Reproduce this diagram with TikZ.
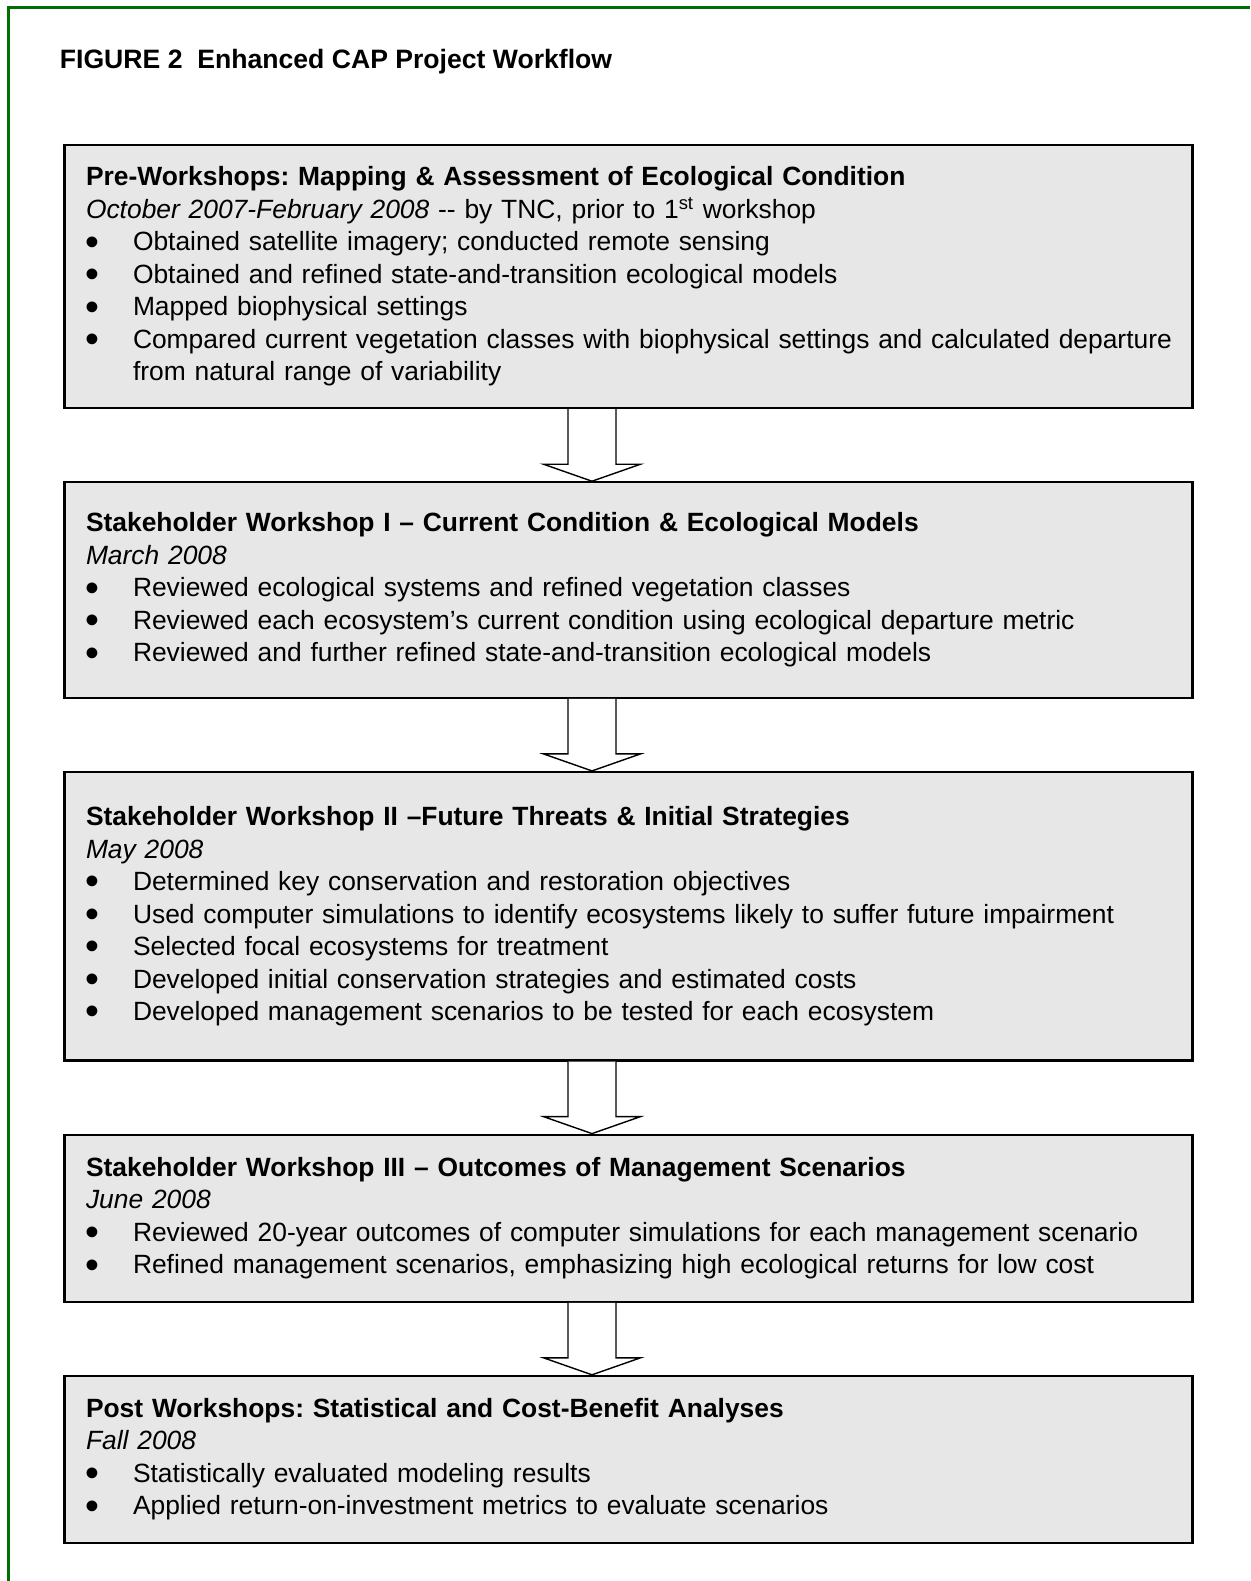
\documentclass[tikz,border=0pt]{standalone}
\usepackage{fontspec}
\setmainfont{Liberation Sans}
\usetikzlibrary{positioning, calc}
\definecolor{FrameColor}{RGB}{0,110,0}
\definecolor{BoxColor}{RGB}{231,231,231}
\newcommand{\stagefont}{\fontsize{13.2}{16.25}\selectfont\frenchspacing\hyphenpenalty=10000\relax}
\tikzstyle{stagebox} = [rectangle, draw=black, line width=1.1pt, fill=BoxColor, text width=542.5pt, inner xsep=10.75pt, inner ysep=0pt, align=left, font=\stagefont]
\tikzstyle{blockarrow} = [draw=black, line width=0.7pt, fill=white, line join=miter]
% bullet line with hanging indent
\newcommand{\bitem}{\par\noindent\hangindent=23.5pt\hangafter=1\makebox[23.5pt][l]{\hspace{-0.5pt}\smash{\raisebox{-2.2pt}{\scalebox{1.5}{\textbullet}}}}}
% hollow block arrow between two stages
\newcommand{\flowarrow}[2]{%
  \draw[blockarrow] ($(#1.south)+(-30.25pt,0)$) -- ($(#2.north)+(-30.25pt,8.5pt)$)
    -- ($(#2.north)+(-42.5pt,8.5pt)$) -- ($(#2.north)+(-18.25pt,0)$)
    -- ($(#2.north)+(6pt,8.5pt)$) -- ($(#2.north)+(-6.25pt,8.5pt)$)
    -- ($(#1.south)+(-6.25pt,0)$);}

\begin{document}
\begin{tikzpicture}[x=0.5pt, y=0.5pt]
  \useasboundingbox (0,0) rectangle (1250,-1581);
  % Green frame
  \draw[FrameColor, line width=1.5pt] (8.5,-1581) -- (8.5,-7.5) -- (1250,-7.5);

  % Title
  \node[anchor=west, inner sep=0pt, font=\fontsize{13.3}{16}\selectfont\bfseries] (title) at (59.5,-62) {FIGURE 2\ \ Enhanced CAP Project Workflow};

  % Pre-workshops
  \node[stagebox, anchor=north, minimum height=131.5pt] (pre) at (628.5,-144) {%
    \textbf{Pre-Workshops: Mapping \& Assessment of Ecological Condition}\par
    \textit{October 2007-February 2008} -{}- by TNC, prior to 1\textsuperscript{st} workshop
    \bitem Obtained satellite imagery; conducted remote sensing
    \bitem Obtained and refined state-and-transition ecological models
    \bitem Mapped biophysical settings
    \bitem \mbox{Compared current vegetation classes with biophysical settings and calculated departure}\newline from natural range of variability\par};

  % Workshop I
  \node[stagebox, below=36pt of pre, minimum height=107.75pt] (wsone) {%
    \textbf{Stakeholder Workshop I – Current Condition \& Ecological Models}\par
    \textit{March 2008}
    \bitem Reviewed ecological systems and refined vegetation classes
    \bitem Reviewed each ecosystem’s current condition using ecological departure metric
    \bitem Reviewed and further refined state-and-transition ecological models\par};

  % Workshop II
  \node[stagebox, below=36pt of wsone, minimum height=144.25pt] (wstwo) {%
    \textbf{Stakeholder Workshop II –Future Threats \& Initial Strategies}\par
    \textit{May 2008}
    \bitem Determined key conservation and restoration objectives
    \bitem Used computer simulations to identify ecosystems likely to suffer future impairment
    \bitem Selected focal ecosystems for treatment
    \bitem Developed initial conservation strategies and estimated costs
    \bitem Developed management scenarios to be tested for each ecosystem\par};

  % Workshop III
  \node[stagebox, below=36pt of wstwo, minimum height=83.5pt] (wsthree) {%
    \textbf{Stakeholder Workshop III – Outcomes of Management Scenarios}\par
    \textit{June 2008}
    \bitem Reviewed 20-year outcomes of computer simulations for each management scenario
    \bitem Refined management scenarios, emphasizing high ecological returns for low cost\par};

  % Post workshops
  \node[stagebox, below=36pt of wsthree, minimum height=83.5pt] (post) {%
    \textbf{Post Workshops: Statistical and Cost-Benefit Analyses}\par
    \textit{Fall 2008}
    \bitem Statistically evaluated modeling results
    \bitem Applied return-on-investment metrics to evaluate scenarios\par};

  % Arrows
  \flowarrow{pre}{wsone}
  \flowarrow{wsone}{wstwo}
  \flowarrow{wstwo}{wsthree}
  \flowarrow{wsthree}{post}
\end{tikzpicture}
\end{document}
